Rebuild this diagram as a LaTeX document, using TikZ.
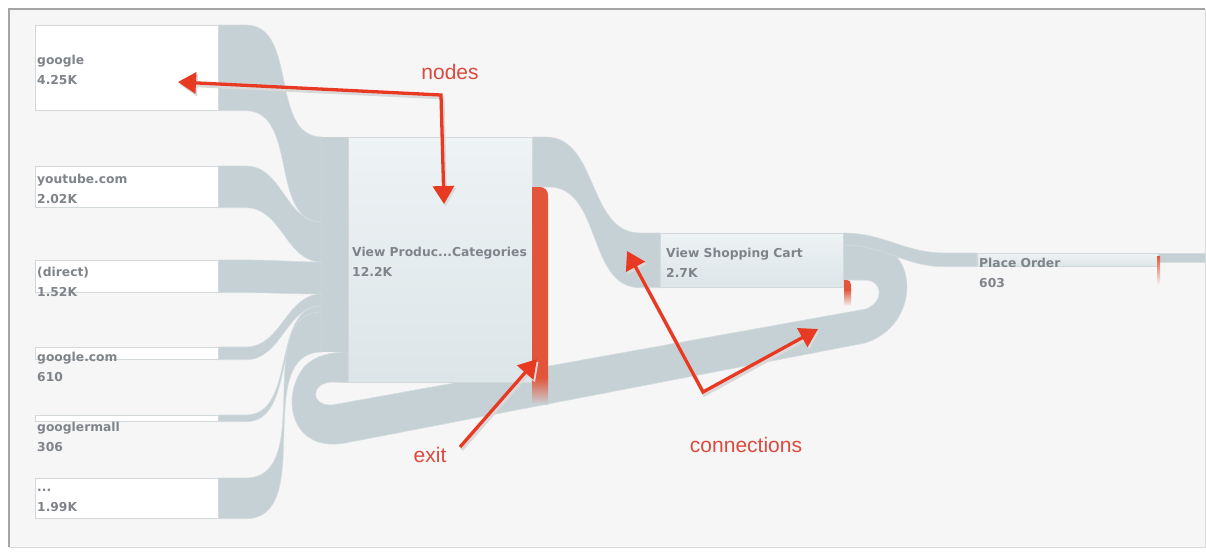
\documentclass[tikz,border=0pt]{standalone}
\usepackage{fontspec}
\setmainfont{DejaVu Sans}
\newfontfamily\annoFont{Liberation Sans}
\usepackage{xcolor}
\definecolor{frameBg}{HTML}{F6F6F6}
\definecolor{frameDark}{HTML}{A5A5A5}
\definecolor{frameLight}{HTML}{DADADA}
\definecolor{flowGray}{HTML}{C6D1D5}
\definecolor{flowEdge}{HTML}{D3DCDF}
\definecolor{boxLine}{HTML}{D3D8DA}
\definecolor{stepTop}{HTML}{EEF3F5}
\definecolor{stepBottom}{HTML}{DCE5E8}
\definecolor{labelGray}{HTML}{7F848A}
\definecolor{exitRed}{HTML}{E2553B}
\definecolor{annoRed}{HTML}{E83A22}
\definecolor{annoText}{HTML}{DA4A3E}
\usetikzlibrary{arrows.meta,positioning,calc}
\pgfdeclarelayer{frame}
\pgfdeclarelayer{flows}
\pgfsetlayers{frame,flows,main}
\tikzset{%
  sourceBox/.style={%
    rectangle,
    draw=boxLine,
    line width=0.7pt,
    fill=white,
    anchor=north west,
    inner sep=0pt
  },
  stepBox/.style={%
    rectangle,
    draw=boxLine,
    line width=0.7pt,
    top color=stepTop,
    bottom color=stepBottom,
    anchor=north west,
    inner sep=0pt
  },
  boxLabel/.style={%
    anchor=west,
    align=left,
    inner sep=0pt,
    text=labelGray,
    font=\fontsize{12.3}{20}\selectfont\bfseries
  },
  flow/.style={%
    fill=flowGray,
    draw=flowEdge,
    line width=0.6pt
  },
  annoLine/.style={%
    draw=annoRed,
    line width=3.3pt,
    line join=miter,
    preaction={draw=black!15, line width=3.8pt, transform canvas={shift={(1.5pt,-2.5pt)}}}
  },
  tipEnd/.style={-{Triangle[length=18pt,width=21pt]}},
  tipBoth/.style={{Triangle[length=18pt,width=21pt]}-{Triangle[length=18pt,width=21pt]}},
  annoLabel/.style={%
    text=annoText,
    inner sep=0pt,
    font=\annoFont\fontsize{21}{24}\selectfont
  }
}

\begin{document}
\begin{tikzpicture}[x=1pt, y=-1pt]
  \useasboundingbox (0,0) rectangle (1206,554);

  % frame
  \begin{pgfonlayer}{frame}
    \fill[white] (0,0) rectangle (1206,554);
    \fill[frameBg] (8,8) rectangle (1205,547);
    \draw[frameLight, line width=1pt] (1205,9) -- (1205,547) -- (9,547);
    \draw[frameDark, line width=2pt] (9,547) -- (9,9) -- (1205,9);
  \end{pgfonlayer}

  % sources
  \node[sourceBox, minimum width=183pt, minimum height=85pt] (google) at (35,25) {};
  \node[sourceBox, minimum width=183pt, minimum height=41pt] (youtube) at (35,166) {};
  \node[sourceBox, minimum width=183pt, minimum height=32pt] (direct) at (35,260) {};
  \node[sourceBox, minimum width=183pt, minimum height=12pt] (googleCom) at (35,347) {};
  \node[sourceBox, minimum width=183pt, minimum height=6pt] (googlerMall) at (35,415) {};
  \node[sourceBox, minimum width=183pt, minimum height=40pt] (others) at (35,478) {};

  % steps
  \node[stepBox, minimum width=184pt, minimum height=245pt] (vp) at (348,137) {};
  \node[stepBox, minimum width=183pt, minimum height=54pt] (sc) at (660,233) {};
  \node[stepBox, minimum width=181pt, minimum height=13pt] (po) at (977,253) {};

  % where the sources meet
  \coordinate (in0) at ($(vp.north west)+(-26,0)$);
  \coordinate (in1) at ($(vp.north west)+(-26,85)$);
  \coordinate (in2) at ($(vp.north west)+(-26,125)$);
  \coordinate (in3) at ($(vp.north west)+(-26,157)$);
  \coordinate (in4) at ($(vp.north west)+(-26,169)$);
  \coordinate (in5) at ($(vp.north west)+(-26,175)$);
  \coordinate (in6) at ($(vp.north west)+(-26,215)$);

  \begin{pgfonlayer}{flows}
    \path[flow] (google.north east) -- ++(27,0) to[out=0,in=180] (in0) -- (in1) to[out=180,in=0] ($(google.south east)+(27,0)$) -- (google.south east) -- cycle;
    \path[flow] (youtube.north east) -- ++(27,0) to[out=0,in=180] (in1) -- (in2) to[out=180,in=0] ($(youtube.south east)+(27,0)$) -- (youtube.south east) -- cycle;
    \path[flow] (direct.north east) -- ++(27,0) to[out=0,in=180] (in2) -- (in3) to[out=180,in=0] ($(direct.south east)+(27,0)$) -- (direct.south east) -- cycle;
    \path[flow] (googleCom.north east) -- ++(27,0) to[out=0,in=180] (in3) -- (in4) to[out=180,in=0] ($(googleCom.south east)+(27,0)$) -- (googleCom.south east) -- cycle;
    \path[flow] (googlerMall.north east) -- ++(27,0) to[out=0,in=180] (in4) -- (in5) to[out=180,in=0] ($(googlerMall.south east)+(27,0)$) -- (googlerMall.south east) -- cycle;
    \path[flow] (others.north east) -- ++(27,0) to[out=0,in=180] (in5) -- (in6) to[out=180,in=0] ($(others.south east)+(27,0)$) -- (others.south east) -- cycle;
    \fill[flowGray] (in0) rectangle ($(vp.north west)+(0,215)$);

    % loop back from the cart
    \path[flow] ($(sc.north east)+(0,12)$) -- (870,245) .. controls (918,245) and (922,325) .. (865,343)
      -- (345,443) .. controls (290,453) and (280,395) .. (305,366) .. controls (316,355) and (332,352) .. ($(vp.north west)+(0,215)$)
      -- (vp.south west) -- (332,382) .. controls (310,383) and (310,406) .. (332,405)
      -- (866,309) .. controls (884,302) and (884,280) .. (864,280) -- ($(sc.north east)+(0,47)$) -- cycle;

    % forward
    \path[flow] (vp.north east) -- ++(13,0) to[out=0,in=180] ($(sc.north west)+(-20,0)$) -- (sc.north west)
      -- (sc.south west) -- ++(-20,0) to[out=180,in=0] ($(vp.north east)+(16,50)$) -- ($(vp.north east)+(0,50)$) -- cycle;
    \path[flow] (sc.north east) to[out=0,in=180] ($(po.north west)+(-32,0)$) -- (po.north west)
      -- (po.south west) -- ++(-32,0) to[out=180,in=0] ($(sc.north east)+(0,12)$) -- cycle;
    \path[flow] (po.north east) rectangle (1205,262);
  \end{pgfonlayer}

  % exits
  \fill[exitRed] (532,187) -- (540,187) .. controls (544.4,187) and (548,190.6) .. (548,195) -- (548,378) -- (532,378) -- cycle;
  \shade[top color=exitRed, bottom color=flowGray] (532,377.5) rectangle (548,404);
  \fill[exitRed] (844,280) -- (847,280) .. controls (849.5,280) and (851,282) .. (851,285) -- (851,290) -- (844,290) -- cycle;
  \shade[top color=exitRed, bottom color=frameBg] (844,289.5) rectangle (851,306);
  \shade[top color=exitRed, bottom color=frameBg] (1157,256) rectangle (1160,285);

  % labels
  \node[boxLabel] (googleLbl) at (37,70) {google\\4.25K};
  \node[boxLabel] (youtubeLbl) at (37,189) {youtube.com\\2.02K};
  \node[boxLabel] (directLbl) at (37,282) {(direct)\\1.52K};
  \node[boxLabel] (googleComLbl) at (37,367) {google.com\\610};
  \node[boxLabel] (googlerMallLbl) at (37,437) {googlermall\\306};
  \node[boxLabel] (othersLbl) at (37,500) {...\\1.99K};
  \node[boxLabel] (vpLbl) at (352,262) {View Produc...Categories\\12.2K};
  \node[boxLabel] (scLbl) at (666,263) {View Shopping Cart\\2.7K};
  \node[boxLabel] (poLbl) at (979,273) {Place Order\\603};

  % annotations
  \node[annoLabel] (nodesLbl) at (450,72) {nodes};
  \node[annoLabel] (exitLbl) at (430,455) {exit};
  \node[annoLabel] (connLbl) at (746,445) {connections};

  \coordinate (nodesBend) at (441,95);
  \coordinate (googleTip) at (178,82);
  \coordinate (vpTip) at (444,204);
  \coordinate (exitTail) at (460,447);
  \coordinate (exitTip) at (537,359);
  \coordinate (connBend) at (703,392);
  \coordinate (scTip) at (627,251);
  \coordinate (loopTip) at (818,329);

  \draw[annoLine, tipBoth] (googleTip) -- (nodesBend) -- (vpTip);
  \draw[annoLine, tipEnd] (exitTail) -- (exitTip);
  \draw[annoLine, tipBoth] (scTip) -- (connBend) -- (loopTip);
\end{tikzpicture}
\end{document}
